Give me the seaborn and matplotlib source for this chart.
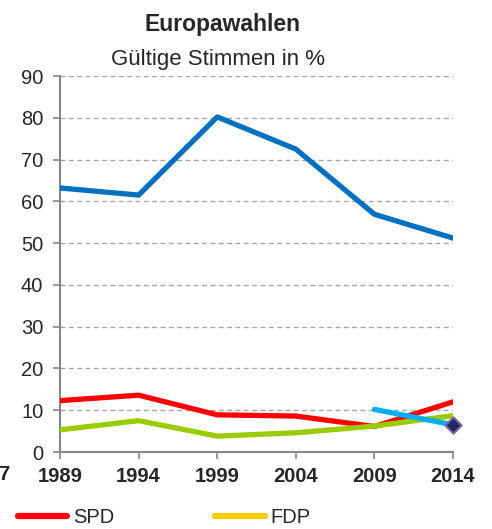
import pandas as pd
import seaborn as sns
import numpy as np
import matplotlib.pyplot as plt
from matplotlib.lines import Line2D

# Werte (Gültige Stimmen in %)
jahre = [1989, 1994, 1999, 2004, 2009, 2014]
csu = [63.2, 61.5, 80.2, 72.5, 56.9, 51.2]
spd = [12.3, 13.6, 8.9, 8.6, 6.1, 12.0]
gruene = [5.3, 7.5, 3.8, 4.6, 6.2, 8.7]
fw_jahre = [2009, 2014]
fw = [10.2, 6.5]
linke_jahre = [2014]
linke = [6.5]

farben = {"CSU": "#0070C0", "SPD": "#FF0000", "Grüne": "#99CC00", "FW": "#00B0F0"}

df = pd.concat([
    pd.DataFrame({"Jahr": jahre, "Wert": csu, "Partei": "CSU"}),
    pd.DataFrame({"Jahr": jahre, "Wert": spd, "Partei": "SPD"}),
    pd.DataFrame({"Jahr": jahre, "Wert": gruene, "Partei": "Grüne"}),
    pd.DataFrame({"Jahr": fw_jahre, "Wert": fw, "Partei": "FW"}),
])

sns.set_style("white")
plt.rcParams['font.family'] = ['Liberation Sans', 'DejaVu Sans']

fig = plt.figure(figsize=(4.92, 5.29), dpi=100)
ax = fig.add_axes([60 / 492, 1 - 452 / 529, (453 - 60) / 492, (452 - 76) / 529])

sns.lineplot(data=df, x="Jahr", y="Wert", hue="Partei", palette=farben,
             linewidth=3.8, legend=False, ax=ax, solid_capstyle="round", zorder=3)
sns.scatterplot(x=linke_jahre, y=linke, marker="D", s=70, color="#1F2A5C",
                edgecolor="#8064A2", linewidth=1.5, ax=ax, zorder=5, clip_on=False)

ax.set_xlim(1989, 2014)
ax.set_ylim(0, 90)
ax.set_xticks(jahre)
ax.set_yticks(np.arange(0, 91, 10))
ax.set_xlabel("")
ax.set_ylabel("")
for lbl in ax.get_xticklabels():
    lbl.set_fontweight("bold")
ax.tick_params(axis="x", labelsize=14.5, length=5, width=1.2, color="#868686", pad=6)
ax.tick_params(axis="y", labelsize=14.5, length=5, width=1.2, color="#868686", pad=7)
ax.tick_params(bottom=True, left=True)

for y in range(10, 91, 10):
    ax.axhline(y, color="#A6A6A6", linewidth=1, linestyle=(0, (3.5, 2.5)), zorder=1)

sns.despine(ax=ax)
for s in ["left", "bottom"]:
    ax.spines[s].set_color("#868686")
    ax.spines[s].set_linewidth(1.5)

fig.text(222 / 492, 1 - 25 / 529, "Europawahlen", ha="center", va="center",
         fontsize=16.5, fontweight="bold")
fig.text(218 / 492, 1 - 59 / 529, "Gültige Stimmen in %", ha="center", va="center",
         fontsize=16)
fig.text(-2 / 492, 1 - 474 / 529, "7", ha="left", va="center", fontsize=14.5,
         fontweight="bold")

griffe = [Line2D([], [], color="#FF0000", linewidth=4.5, solid_capstyle="round"),
          Line2D([], [], color="#FFCC00", linewidth=4.5, solid_capstyle="round")]
fig.legend(griffe, ["SPD", "FDP"], loc="upper left", bbox_to_anchor=(18 / 492, 1 - 508 / 529),
           ncol=2, frameon=False, fontsize=14.5, handlelength=2.45, handletextpad=0.3,
           columnspacing=5.0, borderpad=0, borderaxespad=0)

fig.savefig("out.png", dpi=100)
